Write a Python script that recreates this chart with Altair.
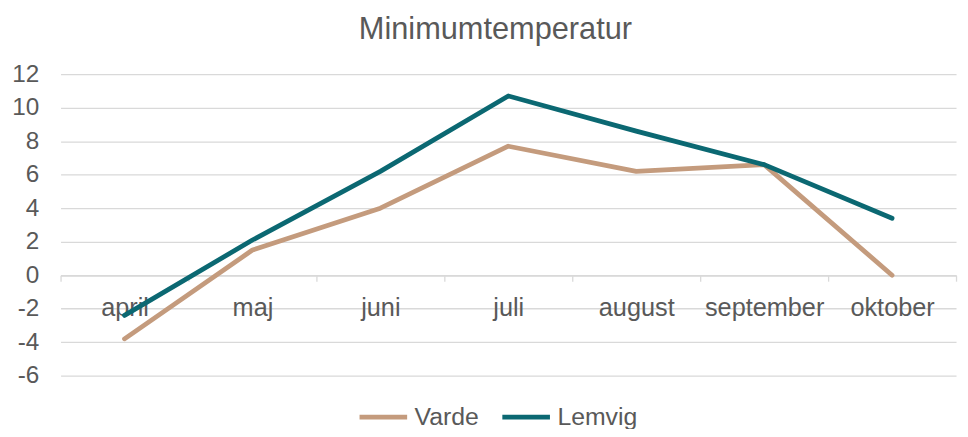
import altair as alt
import pandas as pd

months = ["april", "maj", "juni", "juli", "august", "september", "oktober"]
varde = [-3.8, 1.5, 4.0, 7.7, 6.2, 6.6, 0.0]
lemvig = [-2.4, 2.1, 6.2, 10.7, 8.6, 6.6, 3.4]
series = ["Varde", "Lemvig"]
colors = ["#C49B7D", "#0B6872"]
y_ticks = [-6, -4, -2, 0, 2, 4, 6, 8, 10, 12]

rows = []
for m, v in zip(months, varde):
    rows.append({"måned": m, "temp": v, "station": "Varde"})
for m, v in zip(months, lemvig):
    rows.append({"måned": m, "temp": v, "station": "Lemvig"})
df = pd.DataFrame(rows)

FONT = "Liberation Sans"
GRAY = "#595959"
GRID = "#D9D9D9"

chart = alt.Chart(df).mark_line(strokeWidth=4.8, strokeCap="round", strokeJoin="round").encode(
    x=alt.X(
        "måned:N",
        sort=months,
        bandPosition=0.5,
        scale=alt.Scale(type="band", paddingInner=0, paddingOuter=0),
        axis=alt.Axis(
            title=None,
            labelAngle=0,
            labelFont=FONT,
            labelFontSize=25.5,
            labelColor=GRAY,
            labelPadding=15,
            domainColor=GRID,
            domainWidth=1.3,
            tickColor=GRID,
            tickWidth=1.3,
            tickSize=6,
            tickBand="extent",
            grid=False,
            offset=-101.3,
        ),
    ),
    y=alt.Y(
        "temp:Q",
        scale=alt.Scale(domain=[-6, 12], nice=False, zero=False),
        axis=alt.Axis(
            title=None,
            values=y_ticks,
            labelExpr="'' + datum.value",
            labelFont=FONT,
            labelFontSize=24.5,
            labelColor=GRAY,
            labelPadding=22,
            ticks=False,
            domain=False,
            gridColor=GRID,
            gridWidth=1.3,
        ),
    ),
    color=alt.Color(
        "station:N",
        sort=series,
        scale=alt.Scale(domain=series, range=colors),
        legend=alt.Legend(
            title=None,
            orient="none",
            direction="horizontal",
            legendX=299,
            legendY=319,
            symbolType="stroke",
            symbolSize=2304,
            symbolStrokeWidth=4.8,
            labelFont=FONT,
            labelFontSize=25,
            labelColor=GRAY,
            labelOffset=5,
            columnPadding=13,
        ),
    ),
).properties(
    width=903,
    height=304,
    title=alt.TitleParams(
        "Minimumtemperatur",
        font=FONT,
        fontSize=31,
        fontWeight="normal",
        color=GRAY,
        offset=16,
        dx=-13,
    ),
    autosize=alt.AutoSizeParams(type="none"),
    padding={"left": 53, "top": 65, "right": 4, "bottom": 52},
).configure_view(stroke=None)

chart.save("out.html", embed_options={"renderer": "svg", "actions": False})
